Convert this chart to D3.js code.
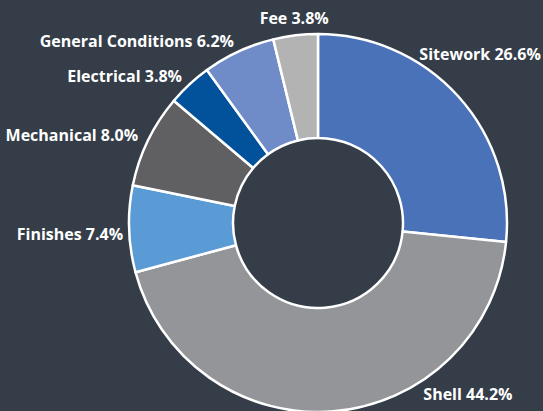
<!DOCTYPE html>
<html>
<head>
<meta charset="utf-8">
<script src="https://cdn.jsdelivr.net/npm/d3@7"></script>
<style>
  html, body { margin: 0; padding: 0; background: #343d48; }
  svg { display: block; }
</style>
</head>
<body>
<div id="chart"></div>
<script>
// The data, clockwise from 12 o'clock
var categories = ["Sitework", "Shell", "Finishes", "Mechanical", "Electrical", "General Conditions", "Fee"];
var shares = [26.6, 44.2, 7.4, 8.0, 3.8, 6.2, 3.8];
var colors = ["#4a72b8", "#939598", "#5b9bd5", "#606062", "#02519b", "#6f8cc9", "#b3b3b3"];

// Size of the page and the donut
var width = 543;
var height = 411;
var cx = 318, cy = 223;
var outerR = 189, innerR = 85;

// Labels that were dragged away from where they would normally sit
var labelShift = { "Sitework": [-47, -34], "Shell": [89, -28], "Finishes": [5, 5] };

var svg = d3.select("#chart")
    .append("svg")
    .attr("width", width)
    .attr("height", height);

svg.append("rect")
    .attr("width", width)
    .attr("height", height)
    .attr("fill", "#343d48");

var g = svg.append("g")
    .attr("transform", `translate(${cx}, ${cy})`);

var pie = d3.pie()
    .sort(null)
    .value(d => d.value);

var arc = d3.arc()
    .innerRadius(innerR)
    .outerRadius(outerR);

var slices = pie(categories.map((c, i) => ({ name: c, value: shares[i], color: colors[i] })));

g.selectAll("path")
    .data(slices)
    .enter()
    .append("path")
    .attr("d", arc)
    .attr("fill", d => d.data.color)
    .attr("stroke", "white")
    .attr("stroke-width", 2.5)
    .attr("stroke-linejoin", "round");

// Labels just outside the ring
var labelR = outerR + 11;
g.selectAll("text")
    .data(slices)
    .enter()
    .append("text")
    .each(function (d) {
        var mid = (d.startAngle + d.endAngle) / 2;
        var x = labelR * Math.sin(mid);
        var y = -labelR * Math.cos(mid);
        var anchor;
        if (Math.abs(Math.sin(mid)) < 0.2 && Math.cos(mid) > 0) {
            anchor = "middle";
            y -= 6;
        } else {
            anchor = Math.sin(mid) >= 0 ? "start" : "end";
        }
        var shift = labelShift[d.data.name];
        if (shift) { x += shift[0]; y += shift[1]; }
        d3.select(this)
            .attr("x", x)
            .attr("y", y)
            .attr("dy", "0.35em")
            .attr("text-anchor", anchor);
    })
    .attr("fill", "white")
    .style("font-family", "'Open Sans', 'Noto Sans', sans-serif")
    .style("font-weight", "bold")
    .style("font-size", "16px")
    .text(d => `${d.data.name} ${d.data.value.toFixed(1)}%`);
</script>
</body>
</html>
